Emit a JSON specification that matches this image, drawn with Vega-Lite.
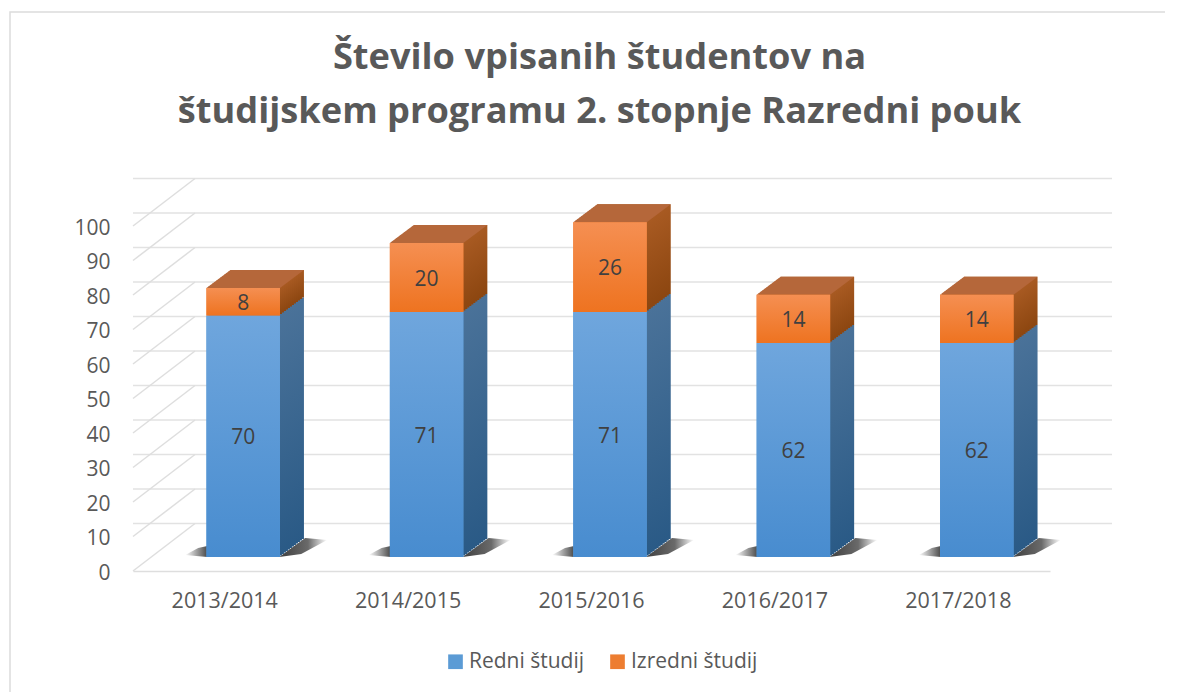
{
"$schema":"https://vega.github.io/schema/vega-lite/v6.json",
"width":917,"height":345,
"autosize":{"type":"none"},
"padding":{"left":133,"top":226,"right":128,"bottom":121},
"background":"#ffffff",
"title":{"text":["Število vpisanih študentov na","študijskem programu 2. stopnje Razredni pouk"],"anchor":"middle","frame":"group","dx":8,"offset":-121,"font":"Open Sans","fontSize":36.2,"fontWeight":"bold","color":"#595959","lineHeight":54},
"config":{
"view":{"stroke":null},
"scale":{"bandPaddingInner":0,"bandPaddingOuter":0},
"font":"Open Sans",
"axisY":{"labelOverlap":false,"tickCount":11,"labelSeparation":0}
},
"data":{"values":[
{"year":"2013/2014","series":"Redni študij","value":70},
{"year":"2013/2014","series":"Izredni študij","value":8},
{"year":"2014/2015","series":"Redni študij","value":71},
{"year":"2014/2015","series":"Izredni študij","value":20},
{"year":"2015/2016","series":"Redni študij","value":71},
{"year":"2015/2016","series":"Izredni študij","value":26},
{"year":"2016/2017","series":"Redni študij","value":62},
{"year":"2016/2017","series":"Izredni študij","value":14},
{"year":"2017/2018","series":"Redni študij","value":62},
{"year":"2017/2018","series":"Izredni študij","value":14}
]},
"transform":[{"stack":"value","groupby":["year"],"sort":[{"field":"series","order":"descending"}],"as":["y0","y1"]}],
"layer":[
{"data":{"values":[{"tick":0},{"tick":10},{"tick":20},{"tick":30},{"tick":40},{"tick":50},{"tick":60},{"tick":70},{"tick":80},{"tick":90},{"tick":100}]},
 "layer":[
 {"mark":{"type":"rule","stroke":"#e2e2e2","strokeWidth":1.5,"xOffset":62,"yOffset":-47.5},
  "encoding":{"y":{"field":"tick","type":"quantitative","scale":{"domain":[0,100],"nice":false},"axis":{"values":[0,10,20,30,40,50,60,70,80,90,100],"labelOverlap":false,"tickCount":11,"labelOffset":2,"domain":false,"ticks":false,"grid":false,"title":null,"labelPadding":23,"labelFontSize":21,"labelColor":"#595959","labelFont":"Open Sans"}}}},
 {"mark":{"type":"point","shape":"M0,0L62,-47.5","size":4,"filled":false,"stroke":"#dedede","strokeWidth":1.5,"opacity":1,"xOffset":-91.7},
  "encoding":{"x":{"datum":"2013/2014","type":"nominal"},"y":{"field":"tick","type":"quantitative"}}}
 ]},
{"data":{"values":[{"corner":"frame"}]},
 "mark":{"type":"point","shape":"M-214.7,121L-214.7,-559L940.3,-559","size":4,"filled":false,"stroke":"#dcdcdc","strokeWidth":1.5,"opacity":1},
 "encoding":{"x":{"datum":"2013/2014","type":"nominal"},"y":{"datum":0,"type":"quantitative"}}},
{"transform":[{"filter":"datum.series === 'Redni študij'"}],
 "encoding":{"x":{"field":"year","type":"nominal"},"y":{"datum":0,"type":"quantitative"}},
 "layer":[
 {"mark":{"type":"point","shape":"M-36,0L-58,-2L-45,-9L-36,-11Z","size":4,"filled":true,"opacity":1,"strokeWidth":0,"xOffset":18.5,"yOffset":-14,"fill":{"gradient":"linear","x1":0,"y1":0,"x2":1,"y2":0,"stops":[{"offset":0,"color":"#ffffff"},{"offset":1,"color":"#4a4a4a"}]}}},
 {"mark":{"type":"point","shape":"M36,0L62,-19L84,-17L58,-3Z","size":4,"filled":true,"opacity":1,"strokeWidth":0,"xOffset":18.5,"yOffset":-14,"fill":{"gradient":"linear","x1":0,"y1":0,"x2":1,"y2":0,"stops":[{"offset":0,"color":"#3f3f3f"},{"offset":0.6,"color":"#6a6a6a"},{"offset":1,"color":"#ffffff"}]}}}
 ]},
{"encoding":{"x":{"field":"year","type":"nominal","axis":{"labelAngle":0,"labelAlign":"center","title":null,"ticks":false,"domain":true,"domainColor":"#dedede","domainWidth":1.5,"labelPadding":30,"labelFontSize":21.5,"labelColor":"#595959","labelFont":"Open Sans"}},"y":{"field":"y0","type":"quantitative"},"y2":{"field":"y1"}},
 "layer":[
 {"transform":[{"filter":"datum.series === 'Redni študij'"}],
  "layer":[
  {"mark":{"type":"bar","fill":{"gradient":"linear","x1":0,"y1":0,"x2":0,"y2":1,"stops":[{"offset":0,"color":"#4a7299"},{"offset":1,"color":"#2a5a86"}]},"size":73.5,"xOffset":42.5,"yOffset":-32,"y2Offset":-32}},
  {"mark":{"type":"bar","fill":{"gradient":"linear","x1":0,"y1":0,"x2":0,"y2":1,"stops":[{"offset":0,"color":"#4a7299"},{"offset":1,"color":"#2a5a86"}]},"size":73.5,"xOffset":40.5,"yOffset":-30.5,"y2Offset":-30.5}},
  {"mark":{"type":"bar","fill":{"gradient":"linear","x1":0,"y1":0,"x2":0,"y2":1,"stops":[{"offset":0,"color":"#4a7299"},{"offset":1,"color":"#2a5a86"}]},"size":73.5,"xOffset":38.5,"yOffset":-29,"y2Offset":-29}},
  {"mark":{"type":"bar","fill":{"gradient":"linear","x1":0,"y1":0,"x2":0,"y2":1,"stops":[{"offset":0,"color":"#4a7299"},{"offset":1,"color":"#2a5a86"}]},"size":73.5,"xOffset":36.5,"yOffset":-27.5,"y2Offset":-27.5}},
  {"mark":{"type":"bar","fill":{"gradient":"linear","x1":0,"y1":0,"x2":0,"y2":1,"stops":[{"offset":0,"color":"#4a7299"},{"offset":1,"color":"#2a5a86"}]},"size":73.5,"xOffset":34.5,"yOffset":-26,"y2Offset":-26}},
  {"mark":{"type":"bar","fill":{"gradient":"linear","x1":0,"y1":0,"x2":0,"y2":1,"stops":[{"offset":0,"color":"#4a7299"},{"offset":1,"color":"#2a5a86"}]},"size":73.5,"xOffset":32.5,"yOffset":-24.5,"y2Offset":-24.5}},
  {"mark":{"type":"bar","fill":{"gradient":"linear","x1":0,"y1":0,"x2":0,"y2":1,"stops":[{"offset":0,"color":"#4a7299"},{"offset":1,"color":"#2a5a86"}]},"size":73.5,"xOffset":30.5,"yOffset":-23,"y2Offset":-23}},
  {"mark":{"type":"bar","fill":{"gradient":"linear","x1":0,"y1":0,"x2":0,"y2":1,"stops":[{"offset":0,"color":"#4a7299"},{"offset":1,"color":"#2a5a86"}]},"size":73.5,"xOffset":28.5,"yOffset":-21.5,"y2Offset":-21.5}},
  {"mark":{"type":"bar","fill":{"gradient":"linear","x1":0,"y1":0,"x2":0,"y2":1,"stops":[{"offset":0,"color":"#4a7299"},{"offset":1,"color":"#2a5a86"}]},"size":73.5,"xOffset":26.5,"yOffset":-20,"y2Offset":-20}},
  {"mark":{"type":"bar","fill":{"gradient":"linear","x1":0,"y1":0,"x2":0,"y2":1,"stops":[{"offset":0,"color":"#4a7299"},{"offset":1,"color":"#2a5a86"}]},"size":73.5,"xOffset":24.5,"yOffset":-18.5,"y2Offset":-18.5}},
  {"mark":{"type":"bar","fill":{"gradient":"linear","x1":0,"y1":0,"x2":0,"y2":1,"stops":[{"offset":0,"color":"#4a7299"},{"offset":1,"color":"#2a5a86"}]},"size":73.5,"xOffset":22.5,"yOffset":-17,"y2Offset":-17}},
  {"mark":{"type":"bar","fill":{"gradient":"linear","x1":0,"y1":0,"x2":0,"y2":1,"stops":[{"offset":0,"color":"#4a7299"},{"offset":1,"color":"#2a5a86"}]},"size":73.5,"xOffset":20.5,"yOffset":-15.5,"y2Offset":-15.5}}
  ]},
 {"transform":[{"filter":"datum.series === 'Izredni študij'"}],
  "layer":[
  {"mark":{"type":"bar","fill":{"gradient":"linear","x1":0,"y1":0,"x2":0,"y2":1,"stops":[{"offset":0,"color":"#a85a22"},{"offset":1,"color":"#8c4610"}]},"size":73.5,"xOffset":42.5,"yOffset":-32,"y2Offset":-32}},
  {"mark":{"type":"bar","fill":{"gradient":"linear","x1":0,"y1":0,"x2":0,"y2":1,"stops":[{"offset":0,"color":"#a85a22"},{"offset":1,"color":"#8c4610"}]},"size":73.5,"xOffset":40.5,"yOffset":-30.5,"y2Offset":-30.5}},
  {"mark":{"type":"bar","fill":{"gradient":"linear","x1":0,"y1":0,"x2":0,"y2":1,"stops":[{"offset":0,"color":"#a85a22"},{"offset":1,"color":"#8c4610"}]},"size":73.5,"xOffset":38.5,"yOffset":-29,"y2Offset":-29}},
  {"mark":{"type":"bar","fill":{"gradient":"linear","x1":0,"y1":0,"x2":0,"y2":1,"stops":[{"offset":0,"color":"#a85a22"},{"offset":1,"color":"#8c4610"}]},"size":73.5,"xOffset":36.5,"yOffset":-27.5,"y2Offset":-27.5}},
  {"mark":{"type":"bar","fill":{"gradient":"linear","x1":0,"y1":0,"x2":0,"y2":1,"stops":[{"offset":0,"color":"#a85a22"},{"offset":1,"color":"#8c4610"}]},"size":73.5,"xOffset":34.5,"yOffset":-26,"y2Offset":-26}},
  {"mark":{"type":"bar","fill":{"gradient":"linear","x1":0,"y1":0,"x2":0,"y2":1,"stops":[{"offset":0,"color":"#a85a22"},{"offset":1,"color":"#8c4610"}]},"size":73.5,"xOffset":32.5,"yOffset":-24.5,"y2Offset":-24.5}},
  {"mark":{"type":"bar","fill":{"gradient":"linear","x1":0,"y1":0,"x2":0,"y2":1,"stops":[{"offset":0,"color":"#a85a22"},{"offset":1,"color":"#8c4610"}]},"size":73.5,"xOffset":30.5,"yOffset":-23,"y2Offset":-23}},
  {"mark":{"type":"bar","fill":{"gradient":"linear","x1":0,"y1":0,"x2":0,"y2":1,"stops":[{"offset":0,"color":"#a85a22"},{"offset":1,"color":"#8c4610"}]},"size":73.5,"xOffset":28.5,"yOffset":-21.5,"y2Offset":-21.5}},
  {"mark":{"type":"bar","fill":{"gradient":"linear","x1":0,"y1":0,"x2":0,"y2":1,"stops":[{"offset":0,"color":"#a85a22"},{"offset":1,"color":"#8c4610"}]},"size":73.5,"xOffset":26.5,"yOffset":-20,"y2Offset":-20}},
  {"mark":{"type":"bar","fill":{"gradient":"linear","x1":0,"y1":0,"x2":0,"y2":1,"stops":[{"offset":0,"color":"#a85a22"},{"offset":1,"color":"#8c4610"}]},"size":73.5,"xOffset":24.5,"yOffset":-18.5,"y2Offset":-18.5}},
  {"mark":{"type":"bar","fill":{"gradient":"linear","x1":0,"y1":0,"x2":0,"y2":1,"stops":[{"offset":0,"color":"#a85a22"},{"offset":1,"color":"#8c4610"}]},"size":73.5,"xOffset":22.5,"yOffset":-17,"y2Offset":-17}},
  {"mark":{"type":"bar","fill":{"gradient":"linear","x1":0,"y1":0,"x2":0,"y2":1,"stops":[{"offset":0,"color":"#a85a22"},{"offset":1,"color":"#8c4610"}]},"size":73.5,"xOffset":20.5,"yOffset":-15.5,"y2Offset":-15.5}}
  ]},
 {"transform":[{"filter":"datum.series === 'Izredni študij'"}],
  "mark":{"type":"point","shape":"M-36.75,0L36.75,0L60.75,-18L-12.75,-18Z","size":4,"filled":true,"opacity":1,"fill":"#b5673a","strokeWidth":0,"xOffset":18.5,"yOffset":-14},
  "encoding":{"y":{"field":"y1","type":"quantitative"},"y2":null}},
 {"mark":{"type":"bar","size":73.5,"xOffset":18.5,"yOffset":-14,"y2Offset":-14},
  "encoding":{"color":{"field":"series","type":"nominal","scale":{"domain":["Redni študij","Izredni študij"],"range":["#5b9bd5","#ed7d31"]},"legend":{"title":null,"orient":"none","legendX":312,"legendY":425,"direction":"horizontal","symbolType":"square","symbolSize":215,"symbolStrokeWidth":0,"symbolOpacity":1,"labelFontSize":21,"labelColor":"#595959","labelFont":"Open Sans","columnPadding":22,"labelOffset":3,"labelLimit":300}}}},
 {"transform":[{"filter":"datum.series === 'Redni študij'"}],
  "mark":{"type":"bar","size":73.5,"xOffset":18.5,"yOffset":-14,"y2Offset":-14,"fill":{"gradient":"linear","x1":0,"y1":0,"x2":0,"y2":1,"stops":[{"offset":0,"color":"#6fa6dd"},{"offset":1,"color":"#488ccf"}]}}},
 {"transform":[{"filter":"datum.series === 'Izredni študij'"}],
  "mark":{"type":"bar","size":73.5,"xOffset":18.5,"yOffset":-14,"y2Offset":-14,"fill":{"gradient":"linear","x1":0,"y1":0,"x2":0,"y2":1,"stops":[{"offset":0,"color":"#f58f52"},{"offset":1,"color":"#ee7320"}]}}}
 ]},
{"transform":[{"fold":["y0","y1"],"as":["edge","pos"]},{"aggregate":[{"op":"mean","field":"pos","as":"mid"}],"groupby":["year","series","value"]}],
 "mark":{"type":"text","fontSize":21,"color":"#404040","font":"Open Sans","baseline":"middle","xOffset":18.5,"yOffset":-12},
 "encoding":{"x":{"field":"year","type":"nominal"},"y":{"field":"mid","type":"quantitative"},"text":{"field":"value","type":"quantitative"}}}
]
}
